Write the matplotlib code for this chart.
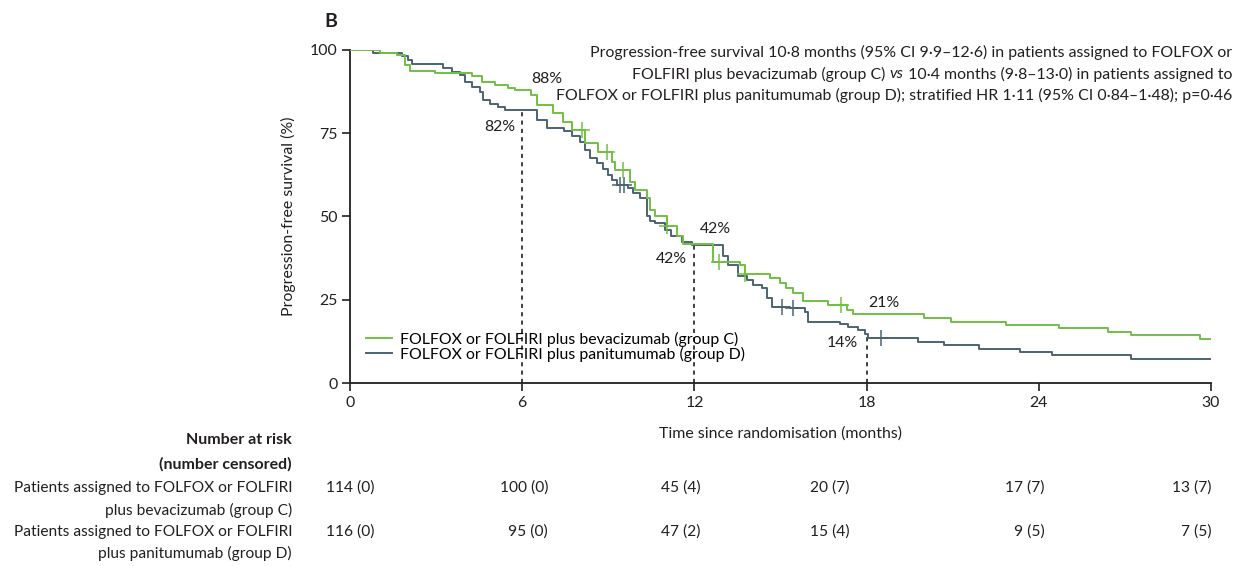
import numpy as np
import matplotlib
matplotlib.use('Agg')
import matplotlib.pyplot as plt
from matplotlib import transforms

plt.rcParams['font.family'] = ['Lato', 'DejaVu Sans']

# Kaplan-Meier steps (time in months, survival %)
time_c = [0, 1.05, 1.63, 1.9, 2.1, 2.96, 4.24, 4.6, 5.05, 5.5, 5.75, 6.3, 6.5, 7.08, 7.43,
          7.72, 8.19, 8.65, 9.12, 9.23, 9.76, 9.93, 10.34, 10.45, 10.63, 11.03, 11.38, 11.6,
          12.65, 13.59, 13.76, 14.63, 14.98, 15.2, 15.44, 15.8, 16.65, 17.3, 17.53, 20.0,
          20.94, 22.85, 24.72, 26.4, 27.2, 29.6, 30]
surv_c = [100, 99.2, 98.5, 95.5, 93.8, 93.0, 92.2, 90.5, 89.5, 88.5, 88.0, 86.5, 83.5, 81, 78.5,
          76, 72, 69.5, 66.5, 64, 60.5, 58, 55.5, 52, 50, 47, 44, 41.8,
          36.2, 35.4, 32.7, 31.4, 29.9, 28.4, 26.9, 24.7, 23.4, 21.9, 20.6, 19.6,
          18.4, 17.5, 16.4, 15.4, 14.4, 13.3, 13.3]
cens_c = [8.07, 8.94, 9.5, 11.03, 12.87, 13.76, 17.1]

time_d = [0, 0.8, 1.8, 2.03, 2.15, 3.25, 3.54, 3.83, 4.0, 4.24, 4.53, 4.65, 4.88, 5.17, 5.4,
          6.5, 6.85, 7.45, 7.72, 8.0, 8.19, 8.36, 8.6, 8.83, 9.0, 9.12, 9.3, 9.7, 9.87, 10.1,
          10.34, 10.45, 10.63, 10.98, 11.2, 11.56, 11.9, 13.0, 13.18, 13.53, 13.82, 14.05,
          14.34, 14.52, 14.69, 15.33, 15.85, 15.97, 17.07, 17.36, 17.71, 17.95, 18.05, 19.8,
          20.7, 21.9, 23.34, 24.45, 27.2, 30]
surv_d = [100, 99, 98.2, 97, 95.7, 94.7, 93.5, 92.5, 90.5, 89, 87.5, 85, 83.8, 82.8, 82,
          78.9, 76.7, 75.8, 74.2, 72.3, 70, 67.5, 66, 64.4, 62.5, 61, 59.5, 58.5, 57, 55.7,
          50, 48.5, 48, 46, 44, 42.4, 41.4, 38, 35.4, 32, 30.9, 29.4,
          28.4, 25.4, 22.9, 22.4, 21.4, 18.4, 17.7, 16.7, 15.9, 14.7, 13.4, 12.4,
          11.3, 10.3, 9.3, 8.3, 7.2, 7.2]
cens_d = [9.4, 9.55, 15.04, 15.45, 18.5]

label_c = 'FOLFOX or FOLFIRI plus bevacizumab (group C)'
label_d = 'FOLFOX or FOLFIRI plus panitumumab (group D)'

# landmark estimates
land_t = [6, 12, 18]
land_d = [82, 42, 14]
land_text_c = ['88%', '42%', '21%']
land_text_d = ['82%', '42%', '14%']

risk_c = ['114 (0)', '100 (0)', '45 (4)', '20 (7)', '17 (7)', '13 (7)']
risk_d = ['116 (0)', '95 (0)', '47 (2)', '15 (4)', '9 (5)', '7 (5)']

green = '#72bf44'
slate = '#4b6470'
ink = '#231f20'


def surv_at(times, surv, t):
    i = np.searchsorted(times, t, side='right') - 1
    return surv[i]


fig = plt.figure(figsize=(12.46, 5.66), dpi=100)
ax = fig.add_axes([0.2809, 0.3233, 0.691, 0.5884])

ax.step(time_d, surv_d, where='post', color=slate, lw=1.4, label=label_d, zorder=3)
ax.step(time_c, surv_c, where='post', color=green, lw=1.4, label=label_c, zorder=4)
ax.plot(cens_d, [surv_at(time_d, surv_d, t) for t in cens_d], ls='none', marker='+',
        ms=11, mew=1.1, color=slate, zorder=3)
ax.plot(cens_c, [surv_at(time_c, surv_c, t) for t in cens_c], ls='none', marker='+',
        ms=11, mew=1.1, color=green, zorder=4)

for t, v in zip(land_t, land_d):
    ax.plot([t, t], [0, v], color=ink, lw=1.2, ls=(0, (2.5, 2.5)), zorder=2)

# percentage labels
fs = 11.4
ax.text(6.86, 91.2, land_text_c[0], ha='center', va='center', fontsize=fs, color=ink)
ax.text(5.23, 77.0, land_text_d[0], ha='center', va='center', fontsize=fs, color=ink)
ax.text(12.72, 46.2, land_text_c[1], ha='center', va='center', fontsize=fs, color=ink)
ax.text(11.2, 37.1, land_text_d[1], ha='center', va='center', fontsize=fs, color=ink)
ax.text(18.6, 23.9, land_text_c[2], ha='center', va='center', fontsize=fs, color=ink)
ax.text(17.17, 12.1, land_text_d[2], ha='center', va='center', fontsize=fs, color=ink)

ax.set_xlim(0, 30)
ax.set_ylim(0, 100)
ax.set_xticks(np.arange(0, 31, 6))
ax.set_yticks([0, 25, 50, 75, 100])
for s in ['top', 'right']:
    ax.spines[s].set_visible(False)
for s in ['left', 'bottom']:
    ax.spines[s].set_color(ink)
    ax.spines[s].set_linewidth(1.3)
ax.tick_params(direction='out', length=6, width=1.2, color=ink, labelsize=fs,
               labelcolor=ink, pad=3)
ax.set_xlabel('Time since randomisation (months)', fontsize=fs, color=ink, labelpad=12)
ax.set_ylabel('Progression-free survival (%)', fontsize=fs, color=ink, labelpad=10)

h, l = ax.get_legend_handles_labels()
ax.legend(h[::-1], l[::-1], loc='lower left', bbox_to_anchor=(0.006, 0.03), frameon=False,
          fontsize=fs, handlelength=1.6, handletextpad=0.5, labelspacing=0.0,
          borderaxespad=0.3)

fig.text(0.260, 0.962, 'B', fontsize=14, fontweight='bold', color=ink, ha='left', va='center')

# header note, right aligned, with italic "vs" on the second line
rx = 1232 / 1246
line_y = [1 - 52 / 566, 1 - 74 / 566, 1 - 95 / 566]
fig.text(rx, line_y[0],
         'Progression-free survival 10·8 months (95% CI 9·9–12·6) in patients assigned to FOLFOX or',
         ha='right', va='center', fontsize=fs, color=ink)
fig.text(rx, line_y[2],
         'FOLFOX or FOLFIRI plus panitumumab (group D); stratified HR 1·11 (95% CI 0·84–1·48); p=0·46',
         ha='right', va='center', fontsize=fs, color=ink)
renderer = fig.canvas.get_renderer()
part3 = fig.text(rx, line_y[1], ' 10·4 months (9·8–13·0) in patients assigned to',
                 ha='right', va='center', fontsize=fs, color=ink)
x3 = fig.transFigure.inverted().transform(part3.get_window_extent(renderer))[0][0]
part2 = fig.text(x3, line_y[1], 'vs', ha='right', va='center', fontsize=fs, color=ink,
                 style='italic')
x2 = fig.transFigure.inverted().transform(part2.get_window_extent(renderer))[0][0]
fig.text(x2, line_y[1], 'FOLFIRI plus bevacizumab (group C) ', ha='right', va='center',
         fontsize=fs, color=ink)

# number at risk table
lx = 292 / 1246
rows_y = [440, 464, 488, 510, 532, 553]
row_txt = ['Number at risk', '(number censored)',
           'Patients assigned to FOLFOX or FOLFIRI', 'plus bevacizumab (group C)',
           'Patients assigned to FOLFOX or FOLFIRI', 'plus panitumumab (group D)']
for i, (y, s) in enumerate(zip(rows_y, row_txt)):
    fig.text(lx, 1 - y / 566, s, ha='right', va='center', color=ink,
             fontsize=11.5 if i < 2 else 11.2,
             fontweight='bold' if i < 2 else 'normal')

risk_x = [0.87, 6.9, 12.2, 17.42, 24.2, 30.03]
trans = transforms.blended_transform_factory(ax.transData, fig.transFigure)
for x, a, b in zip(risk_x, risk_c, risk_d):
    ax.text(x, 1 - 488 / 566, a, transform=trans, ha='right', va='center', fontsize=11.2, color=ink)
    ax.text(x, 1 - 532 / 566, b, transform=trans, ha='right', va='center', fontsize=11.2, color=ink)

fig.savefig('out.png', dpi=100)
